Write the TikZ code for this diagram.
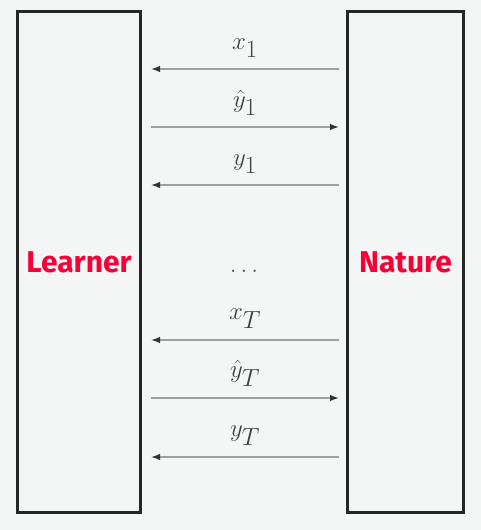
\documentclass[tikz,border=0pt]{standalone}
\usepackage{fontspec}
\setsansfont{Fira Sans}
\usetikzlibrary{arrows.meta,positioning}
\definecolor{bgcol}{HTML}{F4F6F6}
\definecolor{agentred}{RGB}{245,0,55}
\definecolor{msgline}{HTML}{A0A0A0}
\definecolor{msgtext}{HTML}{404040}
\tikzset{
player/.style={draw=black!85,line width=3bp,rectangle,minimum height=501bp,align=center,
  font=\sffamily\bfseries\fontsize{30bp}{34bp}\selectfont,text=agentred},
message/.style={-{Latex[length=9bp,width=6.5bp,color=black!80]},draw=msgline,line width=1.4bp},
msglabel/.style={above=9bp,inner sep=2bp,text=msgtext,font=\fontsize{35bp}{40bp}\selectfont}
}
\begin{document}
\begin{tikzpicture}[x=1bp,y=-1bp]
\useasboundingbox[fill=bgcol] (0,0) rectangle (481,530);
\node[player,minimum width=123bp](learner) at (79,262){Learner};
\node[player,minimum width=116bp](nature) at (405.5,262){Nature};
% message end points
\coordinate (l1) at (151,69);  \coordinate (n1) at (339,69);
\coordinate (l2) at (151,127); \coordinate (n2) at (339,127);
\coordinate (l3) at (151,185); \coordinate (n3) at (339,185);
\coordinate (l4) at (151,340); \coordinate (n4) at (339,340);
\coordinate (l5) at (151,398); \coordinate (n5) at (339,398);
\coordinate (l6) at (151,457); \coordinate (n6) at (339,457);
\draw[message](n1)--node[msglabel](x1){$x_1$}(l1);
\draw[message](l2)--node[msglabel](yh1){$\hat{y}_1$}(n2);
\draw[message](n3)--node[msglabel](y1){$y_1$}(l3);
\node[text=msgtext!85,font=\fontsize{30bp}{34bp}\selectfont](dots) at (244,271){$\dots$};
\draw[message](n4)--node[msglabel](xT){$x_T$}(l4);
\draw[message](l5)--node[msglabel](yhT){$\hat{y}_T$}(n5);
\draw[message](n6)--node[msglabel](yT){$y_T$}(l6);
\end{tikzpicture}
\end{document}
